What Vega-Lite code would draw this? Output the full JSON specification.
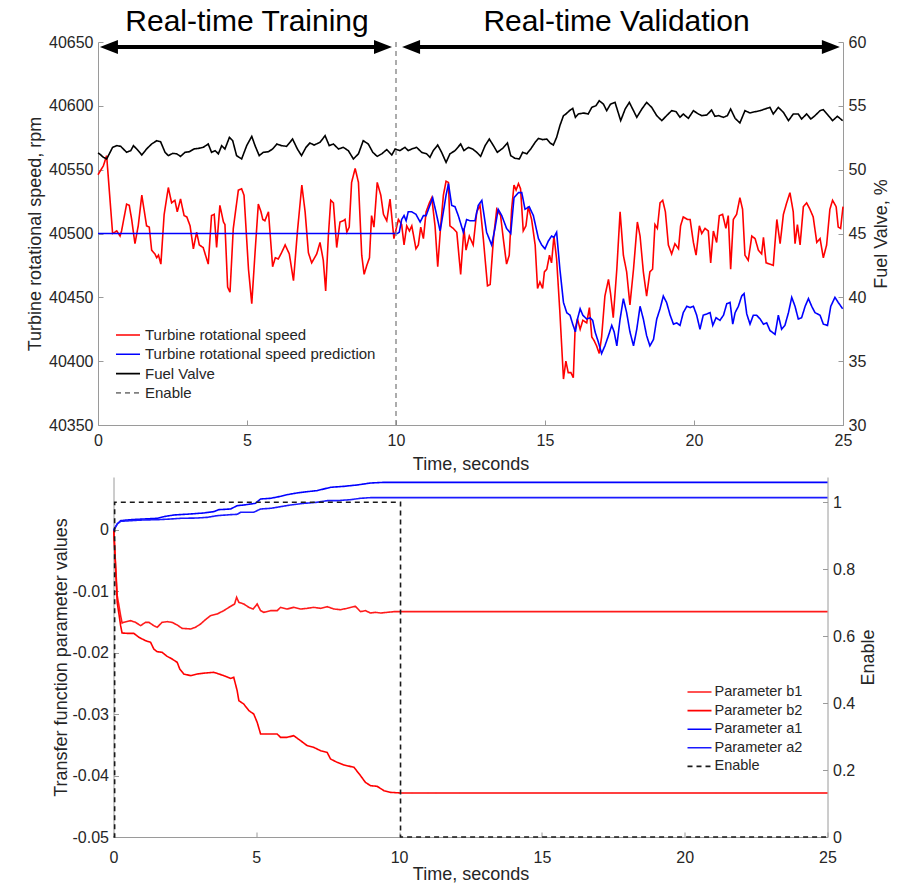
{
"$schema": "https://vega.github.io/schema/vega-lite/v6.json",
"background": "white",
"padding": {"left": 26, "top": 6, "right": 5, "bottom": 2},
"config": {
 "view": {"stroke": null},
 "font": "Liberation Sans",
 "axis": {"grid": false, "domainColor": "#9a9a9a", "tickColor": "#9a9a9a", "labelColor": "#262626", "titleColor": "#262626", "labelFont": "Liberation Sans", "titleFont": "Liberation Sans", "labelFontSize": 16, "titleFontSize": 18, "titleFontWeight": "normal", "tickSize": -5, "labelFlush": false, "labelOverlap": false, "labelBound": false}
},
"datasets": {
 "speed": [{"t":0,"v":40546},{"t":0.05,"v":40548},{"t":0.18,"v":40553},{"t":0.29,"v":40561},{"t":0.49,"v":40500},{"t":0.63,"v":40502},{"t":0.74,"v":40498},{"t":0.79,"v":40502},{"t":0.96,"v":40523},{"t":1.05,"v":40522},{"t":1.13,"v":40511},{"t":1.24,"v":40492},{"t":1.35,"v":40506},{"t":1.47,"v":40530},{"t":1.63,"v":40506},{"t":1.72,"v":40505},{"t":1.8,"v":40487},{"t":1.91,"v":40484},{"t":1.97,"v":40481},{"t":2.03,"v":40483},{"t":2.11,"v":40476},{"t":2.22,"v":40515},{"t":2.36,"v":40536},{"t":2.47,"v":40524},{"t":2.58,"v":40526},{"t":2.66,"v":40517},{"t":2.77,"v":40527},{"t":2.89,"v":40514},{"t":2.98,"v":40513},{"t":3.09,"v":40506},{"t":3.2,"v":40488},{"t":3.31,"v":40501},{"t":3.4,"v":40491},{"t":3.53,"v":40489},{"t":3.7,"v":40476},{"t":3.81,"v":40514},{"t":3.9,"v":40515},{"t":3.98,"v":40489},{"t":4.09,"v":40522},{"t":4.21,"v":40509},{"t":4.26,"v":40507},{"t":4.35,"v":40458},{"t":4.43,"v":40454},{"t":4.54,"v":40504},{"t":4.71,"v":40534},{"t":4.82,"v":40535},{"t":4.9,"v":40530},{"t":5.05,"v":40472},{"t":5.16,"v":40445},{"t":5.27,"v":40485},{"t":5.38,"v":40523},{"t":5.47,"v":40517},{"t":5.53,"v":40511},{"t":5.6,"v":40510},{"t":5.72,"v":40517},{"t":5.86,"v":40474},{"t":5.95,"v":40481},{"t":6.05,"v":40480},{"t":6.16,"v":40485},{"t":6.28,"v":40491},{"t":6.42,"v":40484},{"t":6.56,"v":40463},{"t":6.69,"v":40501},{"t":6.84,"v":40538},{"t":6.95,"v":40517},{"t":7.06,"v":40485},{"t":7.17,"v":40477},{"t":7.34,"v":40484},{"t":7.45,"v":40493},{"t":7.56,"v":40479},{"t":7.64,"v":40455},{"t":7.73,"v":40498},{"t":7.81,"v":40526},{"t":7.9,"v":40524},{"t":8.01,"v":40489},{"t":8.12,"v":40509},{"t":8.23,"v":40510},{"t":8.29,"v":40511},{"t":8.35,"v":40501},{"t":8.43,"v":40505},{"t":8.51,"v":40540},{"t":8.63,"v":40551},{"t":8.74,"v":40540},{"t":8.85,"v":40483},{"t":8.93,"v":40468},{"t":9.02,"v":40475},{"t":9.11,"v":40481},{"t":9.18,"v":40514},{"t":9.26,"v":40505},{"t":9.37,"v":40540},{"t":9.49,"v":40530},{"t":9.58,"v":40515},{"t":9.69,"v":40510},{"t":9.8,"v":40527},{"t":9.93,"v":40496},{"t":10.02,"v":40505},{"t":10.08,"v":40511},{"t":10.19,"v":40507},{"t":10.27,"v":40491},{"t":10.36,"v":40506},{"t":10.45,"v":40502},{"t":10.53,"v":40506},{"t":10.67,"v":40488},{"t":10.75,"v":40491},{"t":10.83,"v":40505},{"t":10.92,"v":40496},{"t":11.01,"v":40517},{"t":11.12,"v":40524},{"t":11.2,"v":40528},{"t":11.31,"v":40506},{"t":11.4,"v":40474},{"t":11.5,"v":40506},{"t":11.59,"v":40530},{"t":11.68,"v":40541},{"t":11.76,"v":40540},{"t":11.81,"v":40506},{"t":11.92,"v":40504},{"t":12.04,"v":40501},{"t":12.17,"v":40468},{"t":12.28,"v":40504},{"t":12.35,"v":40487},{"t":12.46,"v":40498},{"t":12.59,"v":40491},{"t":12.71,"v":40517},{"t":12.82,"v":40522},{"t":12.93,"v":40496},{"t":13.07,"v":40459},{"t":13.16,"v":40460},{"t":13.27,"v":40496},{"t":13.38,"v":40519},{"t":13.51,"v":40514},{"t":13.6,"v":40496},{"t":13.71,"v":40476},{"t":13.8,"v":40483},{"t":13.88,"v":40519},{"t":13.96,"v":40538},{"t":14.03,"v":40534},{"t":14.11,"v":40539},{"t":14.18,"v":40535},{"t":14.27,"v":40502},{"t":14.36,"v":40506},{"t":14.44,"v":40521},{"t":14.55,"v":40511},{"t":14.67,"v":40491},{"t":14.75,"v":40457},{"t":14.83,"v":40462},{"t":14.92,"v":40457},{"t":14.98,"v":40470},{"t":15.06,"v":40472},{"t":15.15,"v":40483},{"t":15.22,"v":40477},{"t":15.3,"v":40498},{"t":15.39,"v":40480},{"t":15.5,"v":40438},{"t":15.62,"v":40386},{"t":15.7,"v":40400},{"t":15.78,"v":40391},{"t":15.87,"v":40391},{"t":15.95,"v":40387},{"t":16.01,"v":40425},{"t":16.09,"v":40433},{"t":16.18,"v":40425},{"t":16.27,"v":40432},{"t":16.4,"v":40430},{"t":16.49,"v":40442},{"t":16.57,"v":40419},{"t":16.65,"v":40416},{"t":16.73,"v":40412},{"t":16.82,"v":40406},{"t":16.9,"v":40419},{"t":17.01,"v":40451},{"t":17.13,"v":40464},{"t":17.2,"v":40453},{"t":17.29,"v":40434},{"t":17.41,"v":40472},{"t":17.52,"v":40517},{"t":17.63,"v":40483},{"t":17.74,"v":40470},{"t":17.85,"v":40444},{"t":17.97,"v":40472},{"t":18.1,"v":40509},{"t":18.19,"v":40498},{"t":18.3,"v":40470},{"t":18.41,"v":40451},{"t":18.52,"v":40470},{"t":18.61,"v":40472},{"t":18.69,"v":40507},{"t":18.77,"v":40504},{"t":18.86,"v":40524},{"t":18.95,"v":40526},{"t":19.04,"v":40517},{"t":19.14,"v":40491},{"t":19.25,"v":40484},{"t":19.36,"v":40492},{"t":19.48,"v":40488},{"t":19.55,"v":40506},{"t":19.64,"v":40513},{"t":19.78,"v":40511},{"t":19.87,"v":40511},{"t":19.98,"v":40493},{"t":20.07,"v":40483},{"t":20.18,"v":40506},{"t":20.26,"v":40500},{"t":20.37,"v":40504},{"t":20.48,"v":40502},{"t":20.56,"v":40477},{"t":20.65,"v":40502},{"t":20.76,"v":40493},{"t":20.85,"v":40514},{"t":20.96,"v":40515},{"t":21.07,"v":40504},{"t":21.15,"v":40514},{"t":21.23,"v":40472},{"t":21.32,"v":40511},{"t":21.43,"v":40515},{"t":21.54,"v":40528},{"t":21.63,"v":40519},{"t":21.71,"v":40483},{"t":21.82,"v":40479},{"t":21.94,"v":40498},{"t":22.05,"v":40496},{"t":22.16,"v":40487},{"t":22.27,"v":40484},{"t":22.33,"v":40497},{"t":22.42,"v":40477},{"t":22.55,"v":40476},{"t":22.66,"v":40475},{"t":22.78,"v":40511},{"t":22.89,"v":40492},{"t":23.0,"v":40515},{"t":23.11,"v":40524},{"t":23.22,"v":40532},{"t":23.33,"v":40517},{"t":23.39,"v":40492},{"t":23.47,"v":40507},{"t":23.56,"v":40491},{"t":23.67,"v":40521},{"t":23.78,"v":40524},{"t":23.89,"v":40519},{"t":24.0,"v":40513},{"t":24.12,"v":40493},{"t":24.23,"v":40496},{"t":24.34,"v":40481},{"t":24.45,"v":40491},{"t":24.56,"v":40519},{"t":24.65,"v":40526},{"t":24.77,"v":40521},{"t":24.84,"v":40505},{"t":24.92,"v":40504},{"t":25.0,"v":40521}],
 "pred": [{"t":0,"v":40500},{"t":10.05,"v":40500},{"t":10.11,"v":40501},{"t":10.19,"v":40511},{"t":10.27,"v":40514},{"t":10.34,"v":40510},{"t":10.41,"v":40517},{"t":10.53,"v":40517},{"t":10.67,"v":40515},{"t":10.81,"v":40509},{"t":10.92,"v":40514},{"t":11.01,"v":40514},{"t":11.12,"v":40521},{"t":11.23,"v":40528},{"t":11.34,"v":40517},{"t":11.48,"v":40502},{"t":11.59,"v":40517},{"t":11.68,"v":40530},{"t":11.76,"v":40539},{"t":11.87,"v":40522},{"t":11.98,"v":40521},{"t":12.09,"v":40514},{"t":12.26,"v":40501},{"t":12.37,"v":40511},{"t":12.48,"v":40510},{"t":12.65,"v":40510},{"t":12.76,"v":40522},{"t":12.88,"v":40526},{"t":13.04,"v":40501},{"t":13.21,"v":40491},{"t":13.32,"v":40504},{"t":13.43,"v":40519},{"t":13.55,"v":40514},{"t":13.71,"v":40504},{"t":13.85,"v":40500},{"t":13.96,"v":40528},{"t":14.11,"v":40532},{"t":14.22,"v":40532},{"t":14.33,"v":40519},{"t":14.47,"v":40521},{"t":14.61,"v":40514},{"t":14.78,"v":40496},{"t":14.89,"v":40491},{"t":15.0,"v":40488},{"t":15.11,"v":40494},{"t":15.22,"v":40498},{"t":15.3,"v":40497},{"t":15.39,"v":40501},{"t":15.5,"v":40472},{"t":15.62,"v":40446},{"t":15.73,"v":40438},{"t":15.84,"v":40436},{"t":15.93,"v":40429},{"t":16.02,"v":40423},{"t":16.09,"v":40433},{"t":16.18,"v":40441},{"t":16.27,"v":40436},{"t":16.4,"v":40433},{"t":16.51,"v":40434},{"t":16.6,"v":40432},{"t":16.68,"v":40423},{"t":16.79,"v":40415},{"t":16.9,"v":40406},{"t":17.01,"v":40412},{"t":17.13,"v":40420},{"t":17.24,"v":40428},{"t":17.32,"v":40423},{"t":17.41,"v":40412},{"t":17.52,"v":40433},{"t":17.63,"v":40449},{"t":17.74,"v":40438},{"t":17.85,"v":40423},{"t":17.97,"v":40412},{"t":18.08,"v":40425},{"t":18.19,"v":40443},{"t":18.3,"v":40433},{"t":18.41,"v":40420},{"t":18.52,"v":40412},{"t":18.64,"v":40417},{"t":18.75,"v":40433},{"t":18.86,"v":40441},{"t":18.97,"v":40451},{"t":19.08,"v":40446},{"t":19.2,"v":40436},{"t":19.31,"v":40429},{"t":19.42,"v":40430},{"t":19.53,"v":40428},{"t":19.64,"v":40438},{"t":19.76,"v":40443},{"t":19.87,"v":40442},{"t":19.98,"v":40443},{"t":20.09,"v":40436},{"t":20.2,"v":40425},{"t":20.31,"v":40436},{"t":20.43,"v":40437},{"t":20.54,"v":40438},{"t":20.63,"v":40428},{"t":20.74,"v":40434},{"t":20.87,"v":40432},{"t":20.99,"v":40436},{"t":21.1,"v":40445},{"t":21.21,"v":40446},{"t":21.3,"v":40429},{"t":21.38,"v":40438},{"t":21.49,"v":40443},{"t":21.6,"v":40451},{"t":21.68,"v":40453},{"t":21.77,"v":40437},{"t":21.88,"v":40429},{"t":21.99,"v":40436},{"t":22.1,"v":40436},{"t":22.22,"v":40433},{"t":22.33,"v":40429},{"t":22.44,"v":40430},{"t":22.55,"v":40424},{"t":22.72,"v":40421},{"t":22.83,"v":40436},{"t":22.94,"v":40425},{"t":23.05,"v":40428},{"t":23.17,"v":40438},{"t":23.28,"v":40450},{"t":23.39,"v":40443},{"t":23.5,"v":40433},{"t":23.61,"v":40434},{"t":23.73,"v":40443},{"t":23.84,"v":40449},{"t":23.95,"v":40443},{"t":24.06,"v":40438},{"t":24.23,"v":40436},{"t":24.34,"v":40429},{"t":24.48,"v":40428},{"t":24.59,"v":40443},{"t":24.73,"v":40450},{"t":24.84,"v":40446},{"t":24.99,"v":40441}],
 "fuel": [{"t":0,"v":51.3},{"t":0.05,"v":51.24},{"t":0.18,"v":50.97},{"t":0.29,"v":50.84},{"t":0.38,"v":51.24},{"t":0.49,"v":51.75},{"t":0.63,"v":51.88},{"t":0.76,"v":51.83},{"t":0.85,"v":51.62},{"t":0.96,"v":51.36},{"t":1.1,"v":51.49},{"t":1.19,"v":51.88},{"t":1.3,"v":51.62},{"t":1.47,"v":51.15},{"t":1.63,"v":51.62},{"t":1.8,"v":52.01},{"t":1.97,"v":52.27},{"t":2.1,"v":52.19},{"t":2.25,"v":51.36},{"t":2.36,"v":51.1},{"t":2.51,"v":51.28},{"t":2.64,"v":51.24},{"t":2.77,"v":51.04},{"t":2.92,"v":51.36},{"t":3.07,"v":51.41},{"t":3.22,"v":51.62},{"t":3.37,"v":51.67},{"t":3.53,"v":51.75},{"t":3.7,"v":52.01},{"t":3.81,"v":51.36},{"t":3.93,"v":51.49},{"t":4.04,"v":51.24},{"t":4.15,"v":51.88},{"t":4.26,"v":51.62},{"t":4.41,"v":52.53},{"t":4.52,"v":52.27},{"t":4.65,"v":51.1},{"t":4.82,"v":50.84},{"t":4.99,"v":51.88},{"t":5.16,"v":52.61},{"t":5.27,"v":51.88},{"t":5.41,"v":51.1},{"t":5.55,"v":51.36},{"t":5.72,"v":51.41},{"t":5.86,"v":51.62},{"t":6.0,"v":52.01},{"t":6.16,"v":51.88},{"t":6.33,"v":51.83},{"t":6.53,"v":52.4},{"t":6.69,"v":51.62},{"t":6.83,"v":51.1},{"t":6.98,"v":51.75},{"t":7.11,"v":52.09},{"t":7.25,"v":51.93},{"t":7.45,"v":52.14},{"t":7.62,"v":52.66},{"t":7.76,"v":51.88},{"t":7.9,"v":52.01},{"t":8.07,"v":51.62},{"t":8.23,"v":51.75},{"t":8.4,"v":51.49},{"t":8.57,"v":50.84},{"t":8.74,"v":51.24},{"t":8.9,"v":52.27},{"t":9.07,"v":52.01},{"t":9.22,"v":51.36},{"t":9.37,"v":51.04},{"t":9.52,"v":51.24},{"t":9.69,"v":51.57},{"t":9.86,"v":51.15},{"t":9.97,"v":51.62},{"t":10.13,"v":51.49},{"t":10.3,"v":51.75},{"t":10.41,"v":51.49},{"t":10.53,"v":51.62},{"t":10.69,"v":51.75},{"t":10.86,"v":51.36},{"t":11.03,"v":51.24},{"t":11.14,"v":50.97},{"t":11.25,"v":51.49},{"t":11.4,"v":51.93},{"t":11.53,"v":51.36},{"t":11.68,"v":50.57},{"t":11.81,"v":51.24},{"t":11.98,"v":51.49},{"t":12.17,"v":52.01},{"t":12.28,"v":51.49},{"t":12.43,"v":51.75},{"t":12.57,"v":51.62},{"t":12.71,"v":51.36},{"t":12.84,"v":51.04},{"t":12.99,"v":51.88},{"t":13.13,"v":52.4},{"t":13.27,"v":51.88},{"t":13.4,"v":51.36},{"t":13.58,"v":51.67},{"t":13.74,"v":52.09},{"t":13.85,"v":51.1},{"t":13.99,"v":50.89},{"t":14.14,"v":50.84},{"t":14.25,"v":51.36},{"t":14.39,"v":51.24},{"t":14.52,"v":51.62},{"t":14.67,"v":52.14},{"t":14.78,"v":52.45},{"t":14.92,"v":52.35},{"t":15.06,"v":52.4},{"t":15.17,"v":52.09},{"t":15.28,"v":51.93},{"t":15.39,"v":52.53},{"t":15.5,"v":53.45},{"t":15.62,"v":54.23},{"t":15.7,"v":54.36},{"t":15.82,"v":54.62},{"t":15.93,"v":54.8},{"t":16.02,"v":54.1},{"t":16.12,"v":54.36},{"t":16.29,"v":54.44},{"t":16.45,"v":54.36},{"t":16.57,"v":54.88},{"t":16.71,"v":55.01},{"t":16.82,"v":55.4},{"t":16.96,"v":55.14},{"t":17.07,"v":54.62},{"t":17.2,"v":55.14},{"t":17.35,"v":55.27},{"t":17.54,"v":53.84},{"t":17.69,"v":54.75},{"t":17.83,"v":55.27},{"t":17.97,"v":54.62},{"t":18.08,"v":54.1},{"t":18.25,"v":54.75},{"t":18.41,"v":55.27},{"t":18.58,"v":54.88},{"t":18.75,"v":54.23},{"t":18.92,"v":53.84},{"t":19.08,"v":54.23},{"t":19.25,"v":54.62},{"t":19.4,"v":54.54},{"t":19.53,"v":54.1},{"t":19.64,"v":54.36},{"t":19.81,"v":54.02},{"t":19.98,"v":54.62},{"t":20.15,"v":54.36},{"t":20.26,"v":54.23},{"t":20.43,"v":54.28},{"t":20.59,"v":54.67},{"t":20.7,"v":54.18},{"t":20.82,"v":54.23},{"t":20.99,"v":54.1},{"t":21.12,"v":54.23},{"t":21.23,"v":54.75},{"t":21.38,"v":54.02},{"t":21.54,"v":53.66},{"t":21.71,"v":54.62},{"t":21.88,"v":54.44},{"t":22.05,"v":54.54},{"t":22.22,"v":54.62},{"t":22.38,"v":54.75},{"t":22.55,"v":54.88},{"t":22.66,"v":54.36},{"t":22.83,"v":54.88},{"t":23.0,"v":54.49},{"t":23.17,"v":53.84},{"t":23.33,"v":54.36},{"t":23.5,"v":54.36},{"t":23.61,"v":53.97},{"t":23.78,"v":54.36},{"t":23.92,"v":53.97},{"t":24.06,"v":54.23},{"t":24.23,"v":54.62},{"t":24.34,"v":54.7},{"t":24.51,"v":54.23},{"t":24.65,"v":53.84},{"t":24.81,"v":54.18},{"t":24.99,"v":53.84}],
 "b1": [{"t":0,"v":0},{"t":0.01,"v":0},{"t":0.13,"v":-0.01069},{"t":0.25,"v":-0.01395},{"t":0.3,"v":-0.01515},{"t":0.36,"v":-0.01504},{"t":0.6,"v":-0.01477},{"t":0.77,"v":-0.01504},{"t":0.95,"v":-0.01558},{"t":1.12,"v":-0.01504},{"t":1.24,"v":-0.01504},{"t":1.41,"v":-0.01558},{"t":1.53,"v":-0.01585},{"t":1.7,"v":-0.01504},{"t":1.88,"v":-0.01493},{"t":2.05,"v":-0.01504},{"t":2.23,"v":-0.01547},{"t":2.4,"v":-0.01602},{"t":2.7,"v":-0.01612},{"t":2.87,"v":-0.01585},{"t":3.05,"v":-0.01531},{"t":3.22,"v":-0.0146},{"t":3.4,"v":-0.01395},{"t":3.63,"v":-0.01368},{"t":3.86,"v":-0.01314},{"t":4.1,"v":-0.01243},{"t":4.24,"v":-0.01205},{"t":4.31,"v":-0.01097},{"t":4.39,"v":-0.01178},{"t":4.56,"v":-0.01205},{"t":4.74,"v":-0.0126},{"t":4.89,"v":-0.01287},{"t":5.03,"v":-0.01205},{"t":5.15,"v":-0.01314},{"t":5.26,"v":-0.01341},{"t":5.5,"v":-0.01314},{"t":5.73,"v":-0.01314},{"t":5.85,"v":-0.0126},{"t":6.08,"v":-0.01287},{"t":6.31,"v":-0.0126},{"t":6.55,"v":-0.01287},{"t":6.78,"v":-0.01276},{"t":7.01,"v":-0.0126},{"t":7.25,"v":-0.01276},{"t":7.48,"v":-0.01249},{"t":7.72,"v":-0.01287},{"t":7.95,"v":-0.01298},{"t":8.18,"v":-0.01276},{"t":8.47,"v":-0.01243},{"t":8.65,"v":-0.0133},{"t":8.82,"v":-0.01314},{"t":9.0,"v":-0.01352},{"t":9.17,"v":-0.01341},{"t":9.35,"v":-0.01352},{"t":9.58,"v":-0.01341},{"t":9.82,"v":-0.0133},{"t":10.05,"v":-0.0133},{"t":25,"v":-0.0133}],
 "b2": [{"t":0,"v":0},{"t":0.01,"v":0},{"t":0.13,"v":-0.01178},{"t":0.25,"v":-0.01558},{"t":0.3,"v":-0.01678},{"t":0.48,"v":-0.01683},{"t":0.71,"v":-0.01683},{"t":0.89,"v":-0.01748},{"t":1.12,"v":-0.01802},{"t":1.3,"v":-0.0183},{"t":1.41,"v":-0.01938},{"t":1.53,"v":-0.01982},{"t":1.7,"v":-0.01992},{"t":1.88,"v":-0.02058},{"t":2.05,"v":-0.02101},{"t":2.23,"v":-0.02155},{"t":2.32,"v":-0.02264},{"t":2.46,"v":-0.02345},{"t":2.7,"v":-0.02372},{"t":2.93,"v":-0.02345},{"t":3.22,"v":-0.02329},{"t":3.51,"v":-0.02318},{"t":3.69,"v":-0.02345},{"t":3.86,"v":-0.02372},{"t":4.1,"v":-0.02416},{"t":4.21,"v":-0.024},{"t":4.33,"v":-0.02617},{"t":4.39,"v":-0.0278},{"t":4.56,"v":-0.02834},{"t":4.74,"v":-0.02942},{"t":4.91,"v":-0.02997},{"t":5.03,"v":-0.03132},{"t":5.15,"v":-0.03322},{"t":5.38,"v":-0.03322},{"t":5.73,"v":-0.03322},{"t":5.85,"v":-0.03377},{"t":6.08,"v":-0.03377},{"t":6.31,"v":-0.0335},{"t":6.55,"v":-0.03431},{"t":6.78,"v":-0.03512},{"t":7.01,"v":-0.0354},{"t":7.25,"v":-0.03594},{"t":7.48,"v":-0.03621},{"t":7.6,"v":-0.0373},{"t":7.83,"v":-0.03784},{"t":8.07,"v":-0.03827},{"t":8.42,"v":-0.03865},{"t":8.65,"v":-0.04001},{"t":8.82,"v":-0.0411},{"t":9.0,"v":-0.04164},{"t":9.23,"v":-0.04175},{"t":9.47,"v":-0.04245},{"t":9.7,"v":-0.04273},{"t":10.05,"v":-0.04283},{"t":25,"v":-0.04283}],
 "a1": [{"t":0,"v":0},{"t":0.01,"v":0},{"t":0.13,"v":0.00098},{"t":0.25,"v":0.00152},{"t":0.6,"v":0.00168},{"t":1.06,"v":0.00179},{"t":1.53,"v":0.0019},{"t":1.76,"v":0.00217},{"t":2.11,"v":0.00244},{"t":2.7,"v":0.00261},{"t":3.16,"v":0.00277},{"t":3.51,"v":0.00299},{"t":3.69,"v":0.00331},{"t":4.1,"v":0.00342},{"t":4.33,"v":0.00396},{"t":4.56,"v":0.00407},{"t":4.97,"v":0.00434},{"t":5.15,"v":0.00505},{"t":5.5,"v":0.00516},{"t":5.85,"v":0.00548},{"t":6.08,"v":0.00575},{"t":6.43,"v":0.00603},{"t":6.78,"v":0.00624},{"t":7.13,"v":0.00641},{"t":7.6,"v":0.00695},{"t":8.07,"v":0.00711},{"t":8.53,"v":0.00733},{"t":9.0,"v":0.00765},{"t":9.47,"v":0.00776},{"t":10.05,"v":0.00776},{"t":25,"v":0.00776}],
 "a2": [{"t":0,"v":0},{"t":0.01,"v":0},{"t":0.13,"v":0.00098},{"t":0.25,"v":0.00141},{"t":0.6,"v":0.00152},{"t":1.06,"v":0.00163},{"t":1.53,"v":0.00168},{"t":2.0,"v":0.00179},{"t":2.35,"v":0.0019},{"t":2.93,"v":0.00195},{"t":3.28,"v":0.00206},{"t":3.63,"v":0.00233},{"t":4.1,"v":0.0025},{"t":4.33,"v":0.00255},{"t":4.45,"v":0.00288},{"t":4.91,"v":0.00288},{"t":5.15,"v":0.00342},{"t":5.5,"v":0.00353},{"t":5.85,"v":0.0038},{"t":6.2,"v":0.00407},{"t":6.66,"v":0.00434},{"t":7.13,"v":0.00451},{"t":7.48,"v":0.00478},{"t":7.83,"v":0.00478},{"t":8.3,"v":0.00494},{"t":8.65,"v":0.00516},{"t":9.0,"v":0.00527},{"t":9.7,"v":0.00527},{"t":10.05,"v":0.00527},{"t":25,"v":0.00527}],
 "enable": [{"t":0,"v":0},{"t":0.04,"v":1},{"t":10.05,"v":0},{"t":25,"v":0}]
},
"vconcat": [
 {
  "width": 745, "height": 383,
  "layer": [
   {"layer": [
    {"data": {"name": "speed"}, "mark": {"type": "line", "strokeWidth": 1.6},
     "encoding": {
      "x": {"field": "t", "type": "quantitative", "scale": {"domain": [0, 25], "nice": false}, "axis": {"title": "Time, seconds", "values": [0,5,10,15,20,25], "format": "d", "labelPadding": 12, "titlePadding": 7}},
      "y": {"field": "v", "type": "quantitative", "scale": {"domain": [40350, 40650], "nice": false, "zero": false}, "axis": {"title": "Turbine rotational speed, rpm", "values": [40350,40400,40450,40500,40550,40600,40650], "format": "d", "labelPadding": 10, "titlePadding": 4}},
      "color": {"datum": "Turbine rotational speed", "scale": {"domain": ["Turbine rotational speed", "Turbine rotational speed prediction", "Fuel Valve", "Enable"], "range": ["#ff0000", "#0000ff", "#000000", "#808080"]}, "legend": {"title": null, "orient": "none", "legendX": 21.5, "legendY": 284.5, "symbolType": "M-1.6,0L1.6,0", "symbolSize": 225, "symbolStrokeWidth": 1.6, "labelFontSize": 15, "labelFont": "Liberation Sans", "labelColor": "#262626", "labelOffset": 8.5, "rowPadding": 2.3, "padding": 0, "labelLimit": 400}},
      "strokeDash": {"datum": "Turbine rotational speed", "scale": {"domain": ["Turbine rotational speed", "Turbine rotational speed prediction", "Fuel Valve", "Enable"], "range": [[1,0],[1,0],[1,0],[5,4]]}, "legend": {"title": null, "orient": "none", "legendX": 21.5, "legendY": 284.5, "symbolType": "M-1.6,0L1.6,0", "symbolSize": 225, "symbolStrokeWidth": 1.6, "labelFontSize": 15, "labelFont": "Liberation Sans", "labelColor": "#262626", "labelOffset": 8.5, "rowPadding": 2.3, "padding": 0, "labelLimit": 400}}
     }},
    {"data": {"name": "pred"}, "mark": {"type": "line", "strokeWidth": 1.6},
     "encoding": {
      "x": {"field": "t", "type": "quantitative", "scale": {"domain": [0, 25], "nice": false}, "axis": {"title": "Time, seconds", "values": [0,5,10,15,20,25], "format": "d", "labelPadding": 12, "titlePadding": 7}},
      "y": {"field": "v", "type": "quantitative", "scale": {"domain": [40350, 40650], "nice": false, "zero": false}, "axis": {"title": "Turbine rotational speed, rpm", "values": [40350,40400,40450,40500,40550,40600,40650], "format": "d", "labelPadding": 10, "titlePadding": 4}},
      "color": {"datum": "Turbine rotational speed prediction", "scale": {"domain": ["Turbine rotational speed", "Turbine rotational speed prediction", "Fuel Valve", "Enable"], "range": ["#ff0000", "#0000ff", "#000000", "#808080"]}},
      "strokeDash": {"datum": "Turbine rotational speed prediction", "scale": {"domain": ["Turbine rotational speed", "Turbine rotational speed prediction", "Fuel Valve", "Enable"], "range": [[1,0],[1,0],[1,0],[5,4]]}}
     }},
    {"data": {"values": [{"t": 0.3, "t2": 9.6, "v": 40646}, {"t": 10.4, "t2": 24.6, "v": 40646}]}, "mark": {"type": "rule", "strokeWidth": 4, "color": "black"},
     "encoding": {
      "x": {"field": "t", "type": "quantitative", "scale": {"domain": [0, 25], "nice": false}, "axis": {"title": "Time, seconds", "values": [0,5,10,15,20,25], "format": "d", "labelPadding": 12, "titlePadding": 7}},
      "x2": {"field": "t2"},
      "y": {"field": "v", "type": "quantitative", "scale": {"domain": [40350, 40650], "nice": false, "zero": false}, "axis": {"title": "Turbine rotational speed, rpm", "values": [40350,40400,40450,40500,40550,40600,40650], "format": "d", "labelPadding": 10, "titlePadding": 4}}
     }},
    {"data": {"values": [{"t": 0.4, "v": 40646}, {"t": 10.54, "v": 40646}]}, "mark": {"type": "point", "shape": "M-1,0L0.8,-0.7L0.8,0.7Z", "filled": true, "opacity": 1, "color": "black", "size": 400},
     "encoding": {
      "x": {"field": "t", "type": "quantitative", "scale": {"domain": [0, 25], "nice": false}, "axis": {"title": "Time, seconds", "values": [0,5,10,15,20,25], "format": "d", "labelPadding": 12, "titlePadding": 7}},
      "y": {"field": "v", "type": "quantitative", "scale": {"domain": [40350, 40650], "nice": false, "zero": false}, "axis": {"title": "Turbine rotational speed, rpm", "values": [40350,40400,40450,40500,40550,40600,40650], "format": "d", "labelPadding": 10, "titlePadding": 4}}
     }},
    {"data": {"values": [{"t": 9.53, "v": 40646}, {"t": 24.56, "v": 40646}]}, "mark": {"type": "point", "shape": "M1,0L-0.8,-0.7L-0.8,0.7Z", "filled": true, "opacity": 1, "color": "black", "size": 400},
     "encoding": {
      "x": {"field": "t", "type": "quantitative", "scale": {"domain": [0, 25], "nice": false}, "axis": {"title": "Time, seconds", "values": [0,5,10,15,20,25], "format": "d", "labelPadding": 12, "titlePadding": 7}},
      "y": {"field": "v", "type": "quantitative", "scale": {"domain": [40350, 40650], "nice": false, "zero": false}, "axis": {"title": "Turbine rotational speed, rpm", "values": [40350,40400,40450,40500,40550,40600,40650], "format": "d", "labelPadding": 10, "titlePadding": 4}}
     }},
    {"data": {"values": [{"t": 5, "v": 40666, "label": "Real-time Training"}, {"t": 17.4, "v": 40666, "label": "Real-time Validation"}]}, "mark": {"type": "text", "fontSize": 30, "font": "Liberation Sans", "baseline": "middle", "color": "black"},
     "encoding": {
      "x": {"field": "t", "type": "quantitative", "scale": {"domain": [0, 25], "nice": false}, "axis": {"title": "Time, seconds", "values": [0,5,10,15,20,25], "format": "d", "labelPadding": 12, "titlePadding": 7}},
      "y": {"field": "v", "type": "quantitative", "scale": {"domain": [40350, 40650], "nice": false, "zero": false}, "axis": {"title": "Turbine rotational speed, rpm", "values": [40350,40400,40450,40500,40550,40600,40650], "format": "d", "labelPadding": 10, "titlePadding": 4}},
      "text": {"field": "label"}
     }}
   ]},
   {"data": {"name": "fuel"}, "mark": {"type": "line", "strokeWidth": 1.6},
    "encoding": {
     "x": {"field": "t", "type": "quantitative", "scale": {"domain": [0, 25], "nice": false}, "axis": {"title": "Time, seconds", "values": [0,5,10,15,20,25], "format": "d", "labelPadding": 12, "titlePadding": 7}},
     "y": {"field": "v", "type": "quantitative", "scale": {"domain": [30, 60], "nice": false, "zero": false}, "axis": {"orient": "right", "title": "Fuel Valve, %", "titleAngle": 270, "titleBaseline": "top", "values": [30,35,40,45,50,55,60], "format": "d", "labelPadding": 10, "titlePadding": 7}},
     "color": {"datum": "Fuel Valve", "scale": {"domain": ["Turbine rotational speed", "Turbine rotational speed prediction", "Fuel Valve", "Enable"], "range": ["#ff0000", "#0000ff", "#000000", "#808080"]}},
     "strokeDash": {"datum": "Fuel Valve", "scale": {"domain": ["Turbine rotational speed", "Turbine rotational speed prediction", "Fuel Valve", "Enable"], "range": [[1,0],[1,0],[1,0],[5,4]]}}
    }},
   {"data": {"values": [{"t": 10}]}, "mark": {"type": "rule", "strokeWidth": 1.3},
    "encoding": {
     "x": {"field": "t", "type": "quantitative", "scale": {"domain": [0, 25], "nice": false}, "axis": {"title": "Time, seconds", "values": [0,5,10,15,20,25], "format": "d", "labelPadding": 12, "titlePadding": 7}},
     "color": {"datum": "Enable", "scale": {"domain": ["Turbine rotational speed", "Turbine rotational speed prediction", "Fuel Valve", "Enable"], "range": ["#ff0000", "#0000ff", "#000000", "#808080"]}},
     "strokeDash": {"datum": "Enable", "scale": {"domain": ["Turbine rotational speed", "Turbine rotational speed prediction", "Fuel Valve", "Enable"], "range": [[1,0],[1,0],[1,0],[5,4]]}}
    }}
  ],
  "resolve": {"scale": {"y": "independent"}}
 },
 {
  "width": 714, "height": 360,
  "layer": [
   {"layer": [
    {"data": {"name": "b1"}, "mark": {"type": "line", "strokeWidth": 1.6},
     "encoding": {
      "x": {"field": "t", "type": "quantitative", "scale": {"domain": [0, 25], "nice": false}, "axis": {"title": "Time, seconds", "values": [0,5,10,15,20,25], "format": "d", "labelPadding": 17, "titlePadding": 0}},
      "y": {"field": "v", "type": "quantitative", "scale": {"domain": [-0.05, 0.00863], "nice": false, "zero": false}, "axis": {"title": "Transfer function parameter values", "values": [-0.05,-0.04,-0.03,-0.02,-0.01,0], "labelExpr": "replace(format(datum.value, '.2~f'), '\u2212', '-')", "labelPadding": 10, "titlePadding": 2}},
      "color": {"datum": "Parameter b1", "scale": {"domain": ["Parameter b1", "Parameter b2", "Parameter a1", "Parameter a2", "Enable"], "range": ["#ff1a1a", "#ff0000", "#0000ff", "#1a1aff", "#1a1a1a"]}, "legend": {"title": null, "orient": "none", "legendX": 577.5, "legendY": 206.5, "symbolType": "M-1.6,0L1.6,0", "symbolSize": 225, "symbolStrokeWidth": 1.6, "labelFontSize": 14.5, "labelFont": "Liberation Sans", "labelColor": "#262626", "labelOffset": 6.5, "rowPadding": 3.6, "padding": 0, "labelLimit": 400}},
      "strokeDash": {"datum": "Parameter b1", "scale": {"domain": ["Parameter b1", "Parameter b2", "Parameter a1", "Parameter a2", "Enable"], "range": [[1,0],[1,0],[1,0],[1,0],[5,4]]}, "legend": {"title": null, "orient": "none", "legendX": 577.5, "legendY": 206.5, "symbolType": "M-1.6,0L1.6,0", "symbolSize": 225, "symbolStrokeWidth": 1.6, "labelFontSize": 14.5, "labelFont": "Liberation Sans", "labelColor": "#262626", "labelOffset": 6.5, "rowPadding": 3.6, "padding": 0, "labelLimit": 400}}
     }},
    {"data": {"name": "b2"}, "mark": {"type": "line", "strokeWidth": 1.6},
     "encoding": {
      "x": {"field": "t", "type": "quantitative", "scale": {"domain": [0, 25], "nice": false}, "axis": {"title": "Time, seconds", "values": [0,5,10,15,20,25], "format": "d", "labelPadding": 17, "titlePadding": 0}},
      "y": {"field": "v", "type": "quantitative", "scale": {"domain": [-0.05, 0.00863], "nice": false, "zero": false}, "axis": {"title": "Transfer function parameter values", "values": [-0.05,-0.04,-0.03,-0.02,-0.01,0], "labelExpr": "replace(format(datum.value, '.2~f'), '\u2212', '-')", "labelPadding": 10, "titlePadding": 2}},
      "color": {"datum": "Parameter b2", "scale": {"domain": ["Parameter b1", "Parameter b2", "Parameter a1", "Parameter a2", "Enable"], "range": ["#ff1a1a", "#ff0000", "#0000ff", "#1a1aff", "#1a1a1a"]}},
      "strokeDash": {"datum": "Parameter b2", "scale": {"domain": ["Parameter b1", "Parameter b2", "Parameter a1", "Parameter a2", "Enable"], "range": [[1,0],[1,0],[1,0],[1,0],[5,4]]}}
     }},
    {"data": {"name": "a1"}, "mark": {"type": "line", "strokeWidth": 1.6},
     "encoding": {
      "x": {"field": "t", "type": "quantitative", "scale": {"domain": [0, 25], "nice": false}, "axis": {"title": "Time, seconds", "values": [0,5,10,15,20,25], "format": "d", "labelPadding": 17, "titlePadding": 0}},
      "y": {"field": "v", "type": "quantitative", "scale": {"domain": [-0.05, 0.00863], "nice": false, "zero": false}, "axis": {"title": "Transfer function parameter values", "values": [-0.05,-0.04,-0.03,-0.02,-0.01,0], "labelExpr": "replace(format(datum.value, '.2~f'), '\u2212', '-')", "labelPadding": 10, "titlePadding": 2}},
      "color": {"datum": "Parameter a1", "scale": {"domain": ["Parameter b1", "Parameter b2", "Parameter a1", "Parameter a2", "Enable"], "range": ["#ff1a1a", "#ff0000", "#0000ff", "#1a1aff", "#1a1a1a"]}},
      "strokeDash": {"datum": "Parameter a1", "scale": {"domain": ["Parameter b1", "Parameter b2", "Parameter a1", "Parameter a2", "Enable"], "range": [[1,0],[1,0],[1,0],[1,0],[5,4]]}}
     }},
    {"data": {"name": "a2"}, "mark": {"type": "line", "strokeWidth": 1.6},
     "encoding": {
      "x": {"field": "t", "type": "quantitative", "scale": {"domain": [0, 25], "nice": false}, "axis": {"title": "Time, seconds", "values": [0,5,10,15,20,25], "format": "d", "labelPadding": 17, "titlePadding": 0}},
      "y": {"field": "v", "type": "quantitative", "scale": {"domain": [-0.05, 0.00863], "nice": false, "zero": false}, "axis": {"title": "Transfer function parameter values", "values": [-0.05,-0.04,-0.03,-0.02,-0.01,0], "labelExpr": "replace(format(datum.value, '.2~f'), '\u2212', '-')", "labelPadding": 10, "titlePadding": 2}},
      "color": {"datum": "Parameter a2", "scale": {"domain": ["Parameter b1", "Parameter b2", "Parameter a1", "Parameter a2", "Enable"], "range": ["#ff1a1a", "#ff0000", "#0000ff", "#1a1aff", "#1a1a1a"]}},
      "strokeDash": {"datum": "Parameter a2", "scale": {"domain": ["Parameter b1", "Parameter b2", "Parameter a1", "Parameter a2", "Enable"], "range": [[1,0],[1,0],[1,0],[1,0],[5,4]]}}
     }}
   ]},
   {"data": {"name": "enable"}, "mark": {"type": "line", "strokeWidth": 1.6, "interpolate": "step-after"},
    "encoding": {
     "x": {"field": "t", "type": "quantitative", "scale": {"domain": [0, 25], "nice": false}, "axis": {"title": "Time, seconds", "values": [0,5,10,15,20,25], "format": "d", "labelPadding": 17, "titlePadding": 0}},
     "y": {"field": "v", "type": "quantitative", "scale": {"domain": [0, 1.0756], "nice": false, "zero": false}, "axis": {"orient": "right", "title": "Enable", "titleAngle": 270, "titleBaseline": "top", "values": [0,0.2,0.4,0.6,0.8,1], "format": ".1~f", "labelPadding": 10, "titlePadding": 5}},
     "color": {"datum": "Enable", "scale": {"domain": ["Parameter b1", "Parameter b2", "Parameter a1", "Parameter a2", "Enable"], "range": ["#ff1a1a", "#ff0000", "#0000ff", "#1a1aff", "#1a1a1a"]}},
     "strokeDash": {"datum": "Enable", "scale": {"domain": ["Parameter b1", "Parameter b2", "Parameter a1", "Parameter a2", "Enable"], "range": [[1,0],[1,0],[1,0],[1,0],[5,4]]}}
    }}
  ],
  "resolve": {"scale": {"y": "independent"}}
 }
],
"spacing": 52,
"bounds": "flush",
"center": true,
"resolve": {"scale": {"x": "independent", "y": "independent", "color": "independent", "strokeDash": "independent"}}
}
